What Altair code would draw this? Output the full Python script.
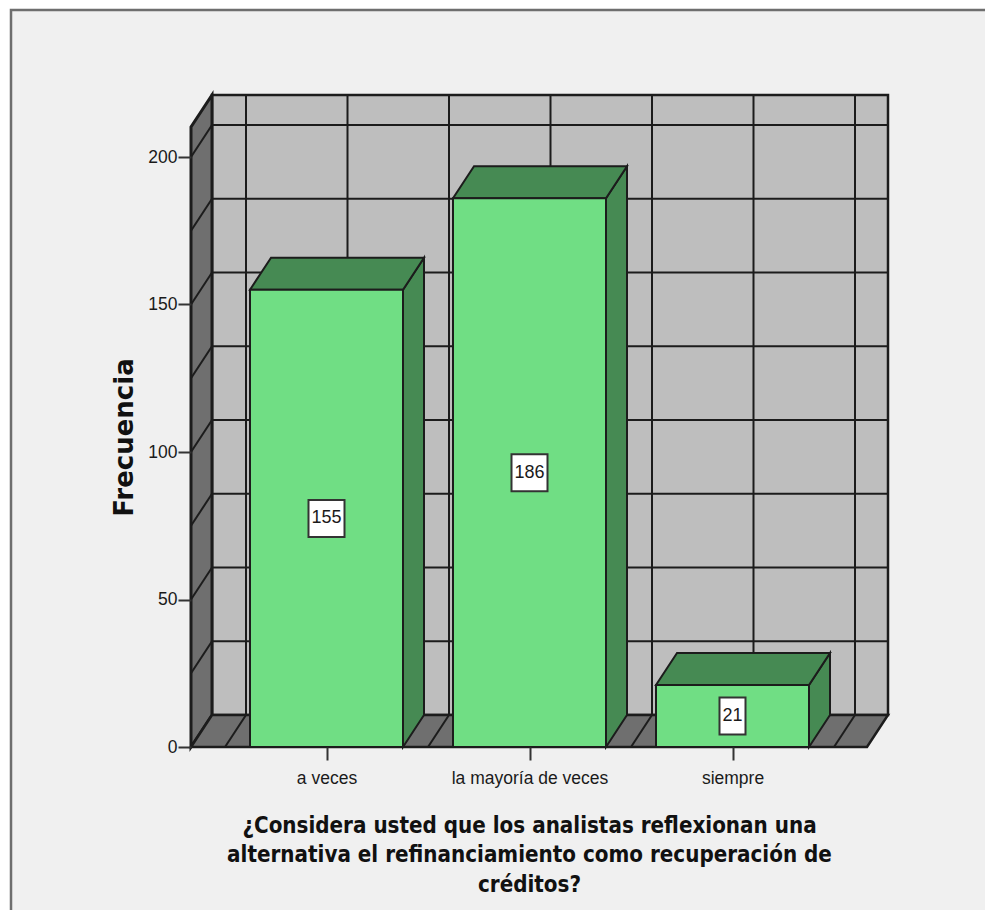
import json
import altair as alt
import pandas as pd

categories = ["a veces", "la mayoría de veces", "siempre"]
values = [155, 186, 21]
y_ticks = [0, 50, 100, 150, 200]
grid_values = [25, 50, 75, 100, 125, 150, 175, 200]
x_title = ["¿Considera usted que los analistas reflexionan una",
           "alternativa el refinanciamiento como recuperación de",
           "créditos?"]
y_title = "Frecuencia"

W, H = 697, 652
PX_Y = 2.95          # pixels per frequency unit
PX_X = 203.0         # pixels per category step
DX = 21 / PX_X       # depth of the 3D box in category units
DY = 32 / PX_Y       # depth in frequency units
XL = -135.5 / PX_X
XR = XL + W / PX_X
YT = H / PX_Y
BAR = 153 / PX_X

EDGE = "#1c1c1c"
WALL = "#bebebe"
DARK = "#6f6f6f"
BAR_FRONT = "#70de84"
BAR_SHADE = "#468a53"
TXT = "#1a1a1a"
SANS = "Liberation Sans"

xs = alt.Scale(domain=[XL, XR], nice=False, zero=False)
ys = alt.Scale(domain=[0, YT], nice=False, zero=False)

label_expr = "[" + ",".join(json.dumps(c, ensure_ascii=False) for c in categories) + "][datum.value]"
x_axis = alt.Axis(values=[0, 1, 2], labelExpr=label_expr, domain=False, grid=False,
                  tickSize=13, tickWidth=2, tickColor="#333333", labelPadding=9,
                  labelFont=SANS, labelFontSize=17.5, labelColor=TXT, labelAngle=0,
                  titleFont="DejaVu Sans Condensed", titleFontSize=22.2,
                  titleFontWeight="bold", titleColor="#111111", titleLineHeight=29.5,
                  titleX=338, titleY=85, titleAlign="center", titleBaseline="alphabetic",
                  zindex=1)
y_axis = alt.Axis(values=y_ticks, domain=False, grid=False, tickSize=13, tickWidth=2,
                  tickColor="#333333", labelPadding=1, labelFont=SANS, labelFontSize=17.5,
                  labelColor=TXT, title=y_title, titleFont="DejaVu Sans", titleFontSize=26,
                  titleFontWeight="bold", titleColor="#111111", titleX=-59,
                  titleY=342, titleAlign="center", titleBaseline="alphabetic", zindex=1)


def X(f="x", **k):
    return alt.X(f"{f}:Q", scale=xs, axis=x_axis, title=x_title, **k)


def Y(f="y", **k):
    return alt.Y(f"{f}:Q", scale=ys, axis=y_axis, title=y_title, **k)


def rect(rows, **mk):
    return alt.Chart(pd.DataFrame(rows)).mark_rect(**mk).encode(
        x=X(), x2=alt.X2("x2:Q"), y=Y(), y2=alt.Y2("y2:Q"))


def rule(rows, **mk):
    return alt.Chart(pd.DataFrame(rows)).mark_rule(**mk).encode(
        x=X(), x2=alt.X2("x2:Q"), y=Y(), y2=alt.Y2("y2:Q"))


panel = alt.Chart(pd.DataFrame({"a": [0]})).mark_rect(
    fill="#f0f0f0", stroke="#6e6e6e", strokeWidth=2.5
).encode(x=alt.value(-180), x2=alt.value(830), y=alt.value(-85), y2=alt.value(850))

wall = rect([{"x": XL + DX, "x2": XR, "y": DY, "y2": YT}],
            fill=WALL, stroke=EDGE, strokeWidth=2.5)

h_grid = rule([{"x": XL + DX, "x2": XR, "y": v + DY, "y2": v + DY} for v in grid_values],
              stroke=EDGE, strokeWidth=2)
bounds = [-0.5, 0.5, 1.5, 2.5]
v_pos = sorted(bounds + [0, 1, 2])
v_grid = rule([{"x": p + DX, "x2": p + DX, "y": DY, "y2": YT} for p in v_pos],
              stroke=EDGE, strokeWidth=2)

left_wall = alt.Chart(pd.DataFrame([
    {"x": XL, "y": 0, "y2": YT - DY},
    {"x": XL + DX, "y": DY, "y2": YT},
])).mark_area(fill=DARK, stroke=EDGE, strokeWidth=3, orient="vertical").encode(
    x=X(), y=Y(stack=False), y2=alt.Y2("y2:Q"))

floor = alt.Chart(pd.DataFrame([
    {"y": 0, "x": XL, "x2": XR - DX},
    {"y": DY, "x": XL + DX, "x2": XR},
])).mark_area(fill=DARK, stroke=EDGE, strokeWidth=2.5, orient="horizontal").encode(
    y=Y(), x=X(stack=False), x2=alt.X2("x2:Q"))

wall_diag = rule([{"x": XL, "x2": XL + DX, "y": v, "y2": v + DY} for v in grid_values],
                 stroke=EDGE, strokeWidth=2)
floor_diag = rule([{"x": b, "x2": b + DX, "y": 0, "y2": DY} for b in bounds],
                  stroke=EDGE, strokeWidth=2)

tops, sides, fronts = [], [], []
for i, v in enumerate(values):
    a, b = i - BAR / 2, i + BAR / 2
    fronts.append({"x": a, "x2": b, "y": 0, "y2": v})
    tops += [{"i": i, "y": v, "x": a, "x2": b},
             {"i": i, "y": v + DY, "x": a + DX, "x2": b + DX}]
    sides += [{"i": i, "x": b, "y": 0, "y2": v},
              {"i": i, "x": b + DX, "y": DY, "y2": v + DY}]

side = alt.Chart(pd.DataFrame(sides)).mark_area(
    fill=BAR_SHADE, stroke=EDGE, strokeWidth=2, orient="vertical"
).encode(x=X(), y=Y(stack=False), y2=alt.Y2("y2:Q"), detail="i:N")
top = alt.Chart(pd.DataFrame(tops)).mark_area(
    fill=BAR_SHADE, stroke=EDGE, strokeWidth=2, orient="horizontal"
).encode(y=Y(), x=X(stack=False), x2=alt.X2("x2:Q"), detail="i:N")
front = rect(fronts, fill=BAR_FRONT, stroke=EDGE, strokeWidth=2)

boxes = []
for i, v in enumerate(values):
    hw = (18 if v >= 100 else 13) / PX_X
    hh = 18.5 / PX_Y
    boxes.append({"x": i - hw, "x2": i + hw, "y": v / 2 - hh, "y2": v / 2 + hh})
box = rect(boxes, fill="white", stroke="#333333", strokeWidth=2)
lab = alt.Chart(pd.DataFrame({"x": [0, 1, 2], "y": [v / 2 for v in values],
                              "t": [str(v) for v in values]})).mark_text(
    font=SANS, fontSize=18, color=TXT, align="center", baseline="middle"
).encode(x=X(), y=Y(), text="t:N")

chart = alt.layer(panel, wall, h_grid, v_grid, left_wall, floor, wall_diag, floor_diag,
                  side, top, front, box, lab).properties(
    width=W, height=H, background="white",
    padding={"left": 183, "top": 87, "right": 97, "bottom": 163},
    autosize=alt.AutoSizeParams(type="none"),
).configure_view(stroke=None)

chart.save("out.html", embed_options={"renderer": "svg", "actions": False})
